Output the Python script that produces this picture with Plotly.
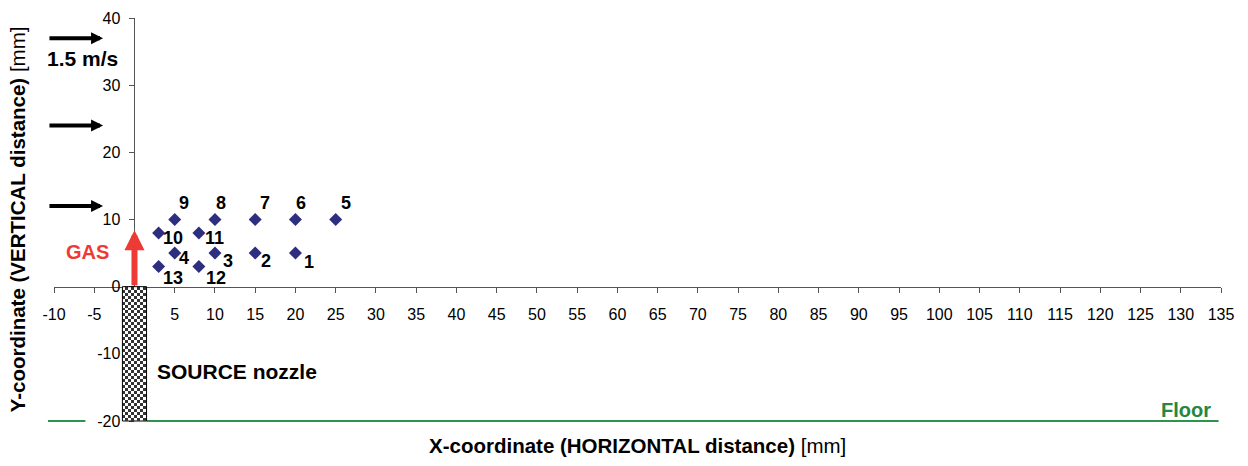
import numpy as np
import plotly.graph_objects as go

# ---------------- data ----------------
point_labels = ["1", "2", "3", "4", "5", "6", "7", "8", "9", "10", "11", "12", "13"]
point_x = [20, 15, 10, 5, 25, 20, 15, 10, 5, 3, 8, 8, 3]
point_y = [5, 5, 5, 5, 10, 10, 10, 10, 10, 8, 8, 3, 3]

x_ticks = list(range(-10, 136, 5))
x_tick_text = ["" if v == 0 else str(v) for v in x_ticks]
y_ticks = [-20, -10, 0, 10, 20, 30, 40]
y_tick_text = [str(v) for v in y_ticks]

velocity_arrow_y = [37, 24, 12]
velocity_arrow_x0 = -10.75
velocity_arrow_x1 = -3.9
velocity_label = "1.5 m/s"

nozzle_x = [-1.5, 1.5]
nozzle_y = [-20, 0]
gas_arrow_top = 8.4
floor_y = -20

X_RANGE = [-10, 135]
Y_RANGE = [-20, 40]

# ---------------- style ----------------
label_offsets = [(14, 9), (11, 8), (13, 8), (9, 5), (10, -17), (6, -17), (10, -17),
                 (6, -17), (9, -17), (14, 5), (16, 5), (17, 11), (14, 11)]
FONT = "Liberation Sans, Arial, sans-serif"
NAVY = "#2E2E80"
RED = "#EE3A34"
GREEN = "#2F9350"
AXIS = "#555555"


def px(x):
    return (x - X_RANGE[0]) / (X_RANGE[1] - X_RANGE[0])


def py(y):
    return (y - Y_RANGE[0]) / (Y_RANGE[1] - Y_RANGE[0])


fig = go.Figure()

# checkerboard nozzle
ncols, nrows = 8, 45
xe = np.linspace(nozzle_x[0], nozzle_x[1], ncols + 1)
ye = np.linspace(nozzle_y[0], nozzle_y[1], nrows + 1)
z = [[(i + j) % 2 for j in range(ncols)] for i in range(nrows)]
fig.add_trace(go.Heatmap(x=xe, y=ye, z=z, colorscale=[[0, "white"], [1, "#333333"]],
                         showscale=False, hoverinfo="skip", zsmooth=False))

# points
fig.add_trace(go.Scatter(x=point_x, y=point_y, mode="markers",
                         marker=dict(symbol="diamond", size=10, color=NAVY),
                         hoverinfo="skip", showlegend=False, cliponaxis=False))

annotations = []
for lab, x, y, (dx, dy) in zip(point_labels, point_x, point_y, label_offsets):
    annotations.append(dict(x=x, y=y, xref="x", yref="y", text=f"<b>{lab}</b>",
                            showarrow=False, xshift=dx, yshift=-dy,
                            font=dict(family=FONT, size=18, color="black")))

# velocity arrows
for ya in velocity_arrow_y:
    annotations.append(dict(x=velocity_arrow_x1, y=ya, ax=velocity_arrow_x0, ay=ya,
                            xref="x", yref="y", axref="x", ayref="y", text="",
                            showarrow=True, arrowhead=2, arrowwidth=4, arrowsize=0.6,
                            arrowcolor="black", standoff=0, startstandoff=0))
annotations.append(dict(x=-6.5, y=34, xref="x", yref="y", text=f"<b>{velocity_label}</b>",
                        showarrow=False, font=dict(family=FONT, size=21, color="black")))

# gas arrow
annotations.append(dict(x=0, y=gas_arrow_top, ax=0, ay=0, xref="x", yref="y",
                        axref="x", ayref="y", text="", showarrow=True, arrowhead=2,
                        arrowwidth=6, arrowsize=0.67, arrowcolor=RED,
                        standoff=0, startstandoff=0))
annotations.append(dict(x=-5.8, y=5.2, xref="x", yref="y", text="<b>GAS</b>",
                        showarrow=False, font=dict(family=FONT, size=20, color=RED)))

annotations.append(dict(x=2.5, y=-12.6, xref="x", yref="y", text="<b>SOURCE nozzle</b>",
                        xanchor="left", showarrow=False,
                        font=dict(family=FONT, size=21, color="black")))
annotations.append(dict(x=134, y=-18.4, xref="x", yref="y", text="<b>Floor</b>",
                        xanchor="right", showarrow=False,
                        font=dict(family=FONT, size=20, color="#228844")))

# axis titles
annotations.append(dict(x=0.5, y=-0.06, xref="paper", yref="paper",
                        xanchor="center", yanchor="middle",
                        text="<b>X-coordinate (HORIZONTAL distance)</b> [mm]",
                        showarrow=False, font=dict(family=FONT, size=20.5, color="black")))
annotations.append(dict(x=-0.031, y=0.5, xref="paper", yref="paper", textangle=-90,
                        xanchor="center", yanchor="middle",
                        text="<b>Y-coordinate (VERTICAL distance)</b> [mm]",
                        showarrow=False, font=dict(family=FONT, size=20.5, color="black")))

shapes = [
    dict(type="line", xref="paper", yref="paper", x0=px(-10.75), x1=px(-6.1),
         y0=py(floor_y), y1=py(floor_y), line=dict(color=GREEN, width=2)),
    dict(type="line", xref="paper", yref="paper", x0=px(nozzle_x[1]), x1=px(134.7),
         y0=py(floor_y), y1=py(floor_y), line=dict(color=GREEN, width=2)),
    dict(type="rect", xref="paper", yref="paper", x0=px(nozzle_x[0]), x1=px(nozzle_x[1]),
         y0=py(nozzle_y[0]), y1=py(nozzle_y[1]), line=dict(color="black", width=1)),
]

fig.update_layout(
    width=1248, height=466,
    margin=dict(l=54, r=27, t=18, b=45, autoexpand=False),
    paper_bgcolor="white", plot_bgcolor="white",
    showlegend=False,
    font=dict(family=FONT, size=16, color="black"),
    annotations=annotations, shapes=shapes,
    xaxis=dict(range=X_RANGE, anchor="free", position=py(0), showgrid=False,
               zeroline=False, showline=True, linecolor=AXIS, linewidth=1,
               tickmode="array", tickvals=x_ticks, ticktext=x_tick_text,
               ticks="outside", ticklen=5, tickcolor=AXIS, ticklabelstandoff=8,
               tickfont=dict(family=FONT, size=16, color="black"),
               layer="below traces", automargin=False),
    yaxis=dict(range=Y_RANGE, anchor="free", position=px(0), showgrid=False,
               zeroline=False, showline=True, linecolor=AXIS, linewidth=1,
               tickmode="array", tickvals=y_ticks, ticktext=y_tick_text,
               ticks="outside", ticklen=5, tickcolor=AXIS, ticklabelstandoff=6,
               tickfont=dict(family=FONT, size=16, color="black"),
               layer="below traces", automargin=False),
)

fig.write_html("out.html", config={"displayModeBar": False},
               post_script="document.body.style.margin='0';document.body.style.overflow='hidden';")
